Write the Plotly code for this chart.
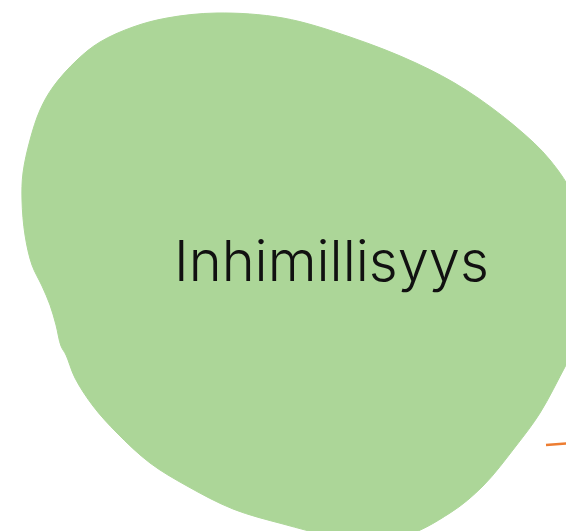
import plotly.graph_objects as go

# Blob outline (page pixel coordinates, y downward)
BLOB_X = [217, 283, 350, 416, 466, 516, 550, 575, 590, 585, 566, 540, 516, 483, 450, 400, 330, 283, 233, 187, 150, 117, 93, 75, 66, 61, 56, 50, 42, 32, 25, 22, 23, 30, 40, 53, 77, 100, 133, 167, 217]
BLOB_Y = [13, 18, 37, 63, 90, 127, 160, 200, 270, 330, 365, 413, 446, 486, 513, 537, 535, 524, 509, 486, 463, 433, 406, 378, 355, 346, 325, 305, 286, 265, 235, 200, 173, 140, 110, 87, 60, 42, 27, 18, 13]

# Orange connector stub
LINE_X = [546, 572]
LINE_Y = [445, 443]

LABEL = "Inhimillisyys"
LABEL_POS = (331, 261)

fig = go.Figure()
fig.add_trace(go.Scatter(
    x=BLOB_X, y=BLOB_Y, mode="lines", fill="toself",
    fillcolor="#acd698", line=dict(color="#acd698", width=1, shape="spline", smoothing=1.0),
    hoverinfo="skip", showlegend=False,
))
fig.add_trace(go.Scatter(
    x=LINE_X, y=LINE_Y, mode="lines",
    line=dict(color="#ed7d31", width=2.5),
    hoverinfo="skip", showlegend=False,
))
fig.add_annotation(
    x=LABEL_POS[0], y=LABEL_POS[1], text=LABEL, showarrow=False,
    xanchor="center", yanchor="middle",
    font=dict(family="Inter", size=56, color="#111111", weight=300),
)
fig.update_layout(
    width=566, height=531,
    margin=dict(l=0, r=0, t=0, b=0),
    paper_bgcolor="white", plot_bgcolor="white",
    xaxis=dict(range=[0, 566], visible=False, fixedrange=True),
    yaxis=dict(range=[531, 0], visible=False, fixedrange=True),
)
fig.write_html("out.html", config={"displayModeBar": False},
               post_script="document.body.style.margin='0';document.body.style.overflow='hidden';")
